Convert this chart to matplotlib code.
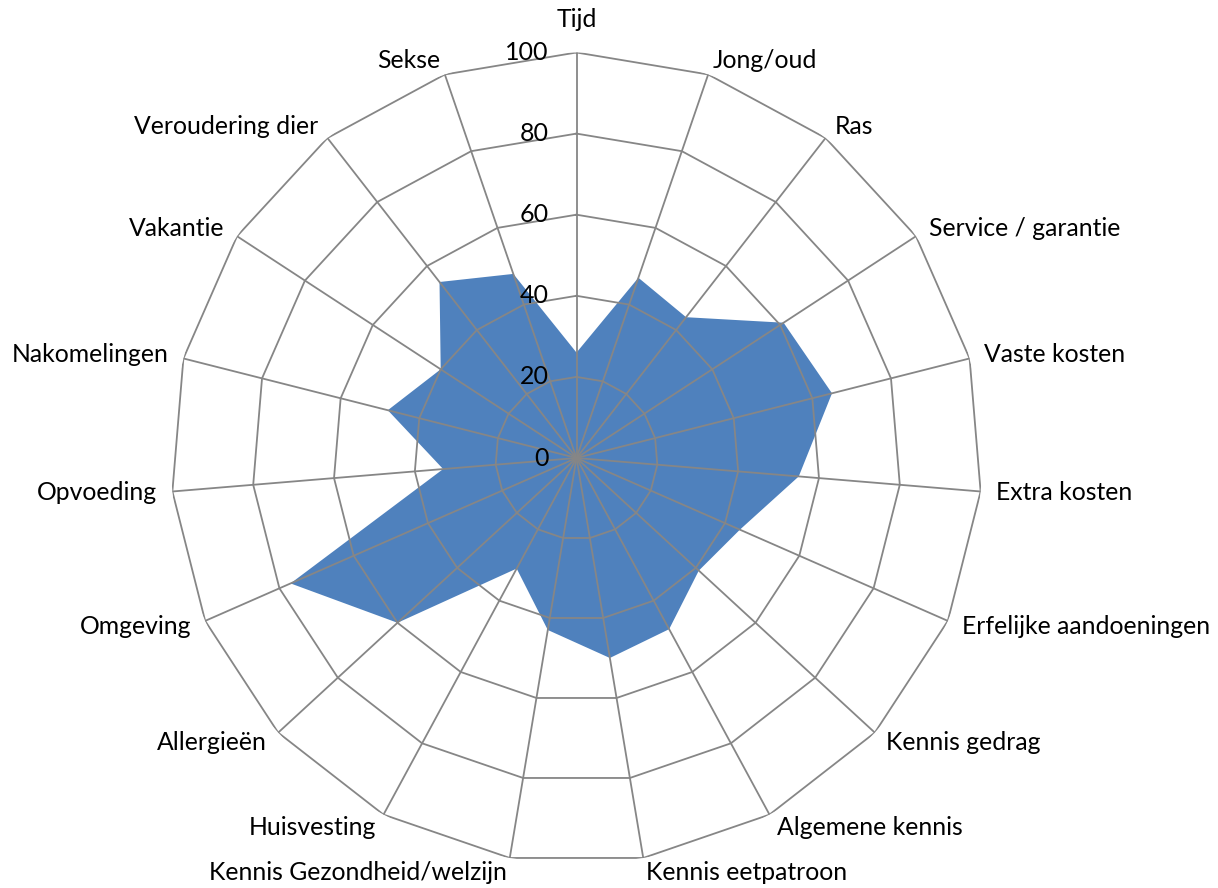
import numpy as np
import matplotlib
matplotlib.use("Agg")
import matplotlib.pyplot as plt

categories = ["Tijd", "Jong/oud", "Ras", "Service / garantie", "Vaste kosten",
              "Extra kosten", "Erfelijke aandoeningen", "Kennis gedrag",
              "Algemene kennis", "Kennis eetpatroon", "Kennis Gezondheid/welzijn",
              "Huisvesting", "Allergieën", "Omgeving", "Opvoeding",
              "Nakomelingen", "Vakantie", "Veroudering dier", "Sekse"]
values = [26, 47, 44, 61, 65, 55, 44, 41, 48, 50, 43, 31, 60, 77, 33, 48, 40, 55, 48]
ticks = [0, 20, 40, 60, 80, 100]

plt.rcParams['font.family'] = ['Lato', 'DejaVu Sans']

fig = plt.figure(figsize=(12.18, 8.88), dpi=100)
cx, cy, R = 576.5 / 1218, 1 - 458 / 888, 405.5
ax = fig.add_axes([cx - R / 1218, cy - R / 888, 2 * R / 1218, 2 * R / 888], projection='polar')
ax.set_theta_zero_location('N')
ax.set_theta_direction(-1)
ax.set_ylim(0, 100)
ax.set_axis_off()

n = len(categories)
theta = np.arange(n) * 2 * np.pi / n
tc = np.append(theta, theta[0])
vc = np.append(values, values[0])

ax.fill(tc, vc, color='#4F81BD', lw=0, zorder=1)

gc = '#868686'
for t in ticks[1:]:
    ax.plot(tc, [t] * (n + 1), color=gc, lw=1.3, zorder=2)
for th in theta:
    ax.plot([th, th], [0, 100], color=gc, lw=1.3, zorder=2)

for t in ticks:
    ax.annotate(str(t), xy=(0, t), xytext=(-28, 0), textcoords='offset pixels',
                ha='right', va='center', fontsize=18, color='black')

for th, lab in zip(theta, categories):
    s, c = np.sin(th), np.cos(th)
    if abs(s) < 0.01:
        ha = 'center'
        off = (0, 33)
    else:
        ha = 'left' if s > 0 else 'right'
        off = (15 * s, 15 * c)
    ax.annotate(lab, xy=(th, 100), xytext=off, textcoords='offset pixels',
                ha=ha, va='center', fontsize=17.8, color='black', annotation_clip=False)

fig.savefig('out.png', dpi=100)
